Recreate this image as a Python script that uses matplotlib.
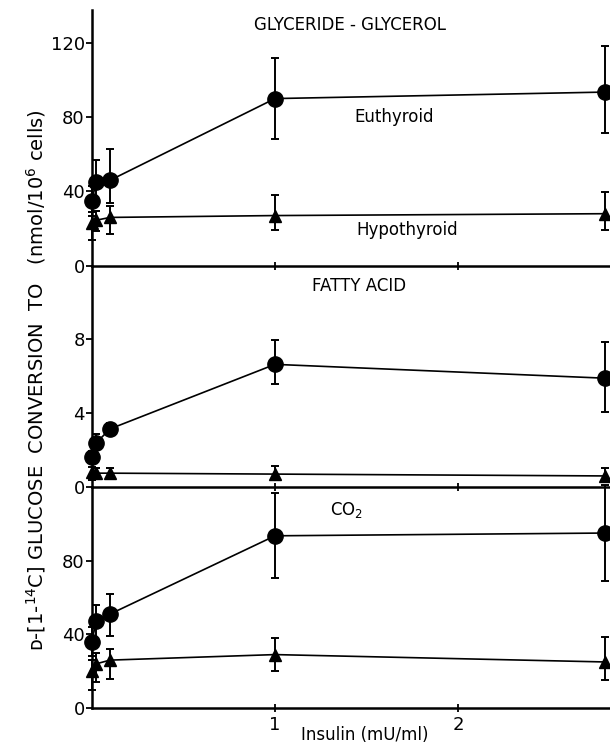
import matplotlib
matplotlib.use("Agg")
import matplotlib.pyplot as plt
import numpy as np

# insulin doses (mU/ml)
dose = [0, 0.025, 0.1, 1, 2.8]

# glyceride-glycerol (nmol/10^6 cells)
gly_eu = [35, 45, 46, 90, 93.5]
gly_eu_lo = [8, 10, 12, 22, 22]
gly_eu_hi = [8, 12, 17, 22, 25]
gly_hy = [23, 24.5, 26, 27, 28]
gly_hy_lo = [9, 6, 9, 8, 9]
gly_hy_hi = [6, 5, 6, 11, 11.5]

# fatty acid
fa_eu = [1.65, 2.4, 3.15, 6.65, 5.9]
fa_eu_lo = [0.3, 0.4, 0.3, 1.05, 1.85]
fa_eu_hi = [0.3, 0.5, 0.3, 1.3, 1.95]
fa_hy = [0.8, 0.75, 0.75, 0.7, 0.6]
fa_hy_lo = [0.4, 0.3, 0.3, 0.3, 0.3]
fa_hy_hi = [0.3, 0.3, 0.3, 0.45, 0.45]

# CO2
co2_eu = [36, 47, 51, 93.5, 95]
co2_eu_lo = [8, 10, 12, 23, 26]
co2_eu_hi = [8, 9, 11, 23, 26]
co2_hy = [20, 24, 26, 29, 25]
co2_hy_lo = [10, 10, 10, 9, 10]
co2_hy_hi = [6, 6, 6, 9, 13.5]

plt.rcParams['font.family'] = ['DejaVu Sans']

fig = plt.figure(figsize=(6.1, 7.45), dpi=100)
W, H = 610.0, 745.0
x0 = 91.7 / W
w = (W - 91.7) / W

def panel(top_px, bot_px):
    return fig.add_axes([x0, 1 - bot_px / H, w, (bot_px - top_px) / H])

ax_top = panel(10, 265.7)
ax_mid = panel(265.7, 487)
ax_bot = panel(487, 708)

panels = [
    (ax_top, gly_eu, gly_eu_lo, gly_eu_hi, gly_hy, gly_hy_lo, gly_hy_hi, 137.7, [0, 40, 80, 120]),
    (ax_mid, fa_eu, fa_eu_lo, fa_eu_hi, fa_hy, fa_hy_lo, fa_hy_hi, 12.0, [0, 4, 8]),
    (ax_bot, co2_eu, co2_eu_lo, co2_eu_hi, co2_hy, co2_hy_lo, co2_hy_hi, 120.0, [0, 40, 80]),
]

for ax, eu, eu_lo, eu_hi, hy, hy_lo, hy_hi, ymax, yt in panels:
    ax.errorbar(dose, eu, yerr=[eu_lo, eu_hi], fmt='-o', color='black',
                ms=11, lw=1.2, elinewidth=1.4, capsize=3, capthick=1.4,
                clip_on=False, zorder=3)
    ax.errorbar(dose, hy, yerr=[hy_lo, hy_hi], fmt='-^', color='black',
                ms=9, lw=1.2, elinewidth=1.4, capsize=3, capthick=1.4,
                clip_on=False, zorder=3)
    ax.set_xlim(0, (W - 91.7) / 183.3)
    ax.set_ylim(0, ymax)
    ax.set_yticks(yt)
    ax.set_yticklabels([str(v) for v in yt])
    ax.spines['top'].set_visible(False)
    ax.spines['right'].set_visible(False)
    ax.spines['left'].set_linewidth(1.8)
    ax.spines['bottom'].set_linewidth(1.8)
    ax.tick_params(axis='y', direction='out', length=4, width=1.3, pad=1,
                   labelsize=13)
    ax.set_xticks([1, 2])
    ax.tick_params(axis='x', direction='inout', length=6, width=1.3,
                   labelsize=13, pad=3)
    ax.patch.set_visible(False)
    if ax is not ax_bot:
        ax.set_xticklabels([])

ax_bot.set_xticklabels(['1', '2'])

ax_top.text(1.41, 129.6, 'GLYCERIDE - GLYCEROL', ha='center', va='center', fontsize=12)
ax_top.text(1.65, 80, 'Euthyroid', ha='center', va='center', fontsize=12)
ax_top.text(1.72, 19.2, 'Hypothyroid', ha='center', va='center', fontsize=12)
ax_mid.text(1.46, 10.9, 'FATTY ACID', ha='center', va='center', fontsize=12)
ax_bot.text(1.39, 107.6, r'CO$_2$', ha='center', va='center', fontsize=12)

ax_bot.text(1.49, -0.122, 'Insulin (mU/ml)', transform=ax_bot.get_xaxis_transform(),
            ha='center', va='center', fontsize=12)

fig.text(0.059, 1 - 380 / H,
         'ᴅ-[1-$^{14}$C] GLUCOSE  CONVERSION  TO   (nmol/10$^{6}$ cells)',
         rotation=90, ha='center', va='center', fontsize=14)

fig.savefig('out.png', dpi=100)
